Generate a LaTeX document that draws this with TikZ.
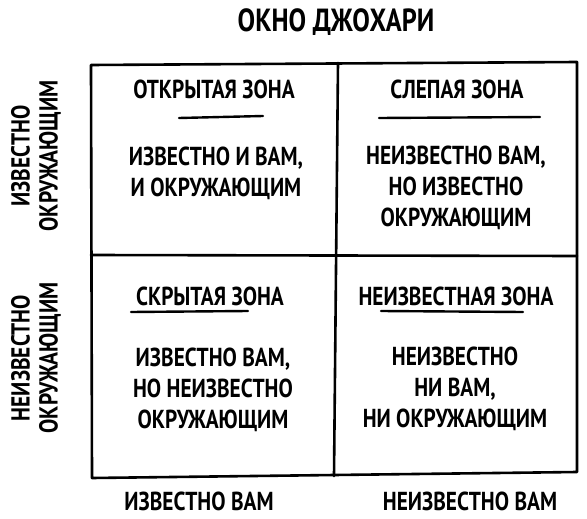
\documentclass[tikz,border=0pt]{standalone}
\usepackage{fontspec}
\setmainfont{PT Sans}[FakeStretch=0.82]
\usetikzlibrary{positioning}

\begin{document}
\begin{tikzpicture}[x=1pt, y=-1pt]
    \tikzstyle{frame} = [line width=2.6pt, line join=round, line cap=round];
    \tikzstyle{underline} = [line width=2.4pt, line cap=round];
    \tikzstyle{zone} = [font=\fontsize{26}{30}\selectfont\bfseries, inner sep=0pt];
    \tikzstyle{body} = [font=\fontsize{26}{31}\selectfont\bfseries, align=center, inner sep=0pt];
    \tikzstyle{side} = [font=\fontsize{26}{28}\selectfont\bfseries, align=center, inner sep=0pt, rotate=90];

    \useasboundingbox (0, 0) rectangle (587, 519);

    % title
    \node[font=\fontsize{32}{30}\selectfont\bfseries, inner sep=0pt] (title) at (336, 22) {ОКНО ДЖОХАРИ};

    % frame corners and midpoints
    \coordinate (tl) at (91, 65);
    \coordinate (tr) at (577, 62);
    \coordinate (br) at (577, 472);
    \coordinate (bl) at (92, 478);
    \coordinate (tm) at (338, 63);
    \coordinate (bm) at (334, 476);
    \coordinate (ml) at (91, 255);
    \coordinate (mr) at (577, 256);

    \draw[frame] (tl) -- (tr) -- (br) -- (bl) -- cycle;
    \draw[frame] (tm) -- (bm);
    \draw[frame] (ml) -- (mr);

    % zones
    \node[zone] (open) at (214, 89) {ОТКРЫТАЯ ЗОНА};
    \node[zone] (blind) at (457, 89) {СЛЕПАЯ ЗОНА};
    \node[zone] (hidden) at (210, 296) {СКРЫТАЯ ЗОНА};
    \node[zone] (unknown) at (456, 296) {НЕИЗВЕСТНАЯ ЗОНА};

    \coordinate (u1a) at (179, 118);
    \coordinate (u1b) at (263, 116);
    \coordinate (u2a) at (379, 118);
    \coordinate (u2b) at (540, 117);
    \coordinate (u3a) at (131, 312);
    \coordinate (u3b) at (248, 311);
    \coordinate (u4a) at (381, 311);
    \coordinate (u4b) at (523, 312);
    \draw[underline] (u1a) -- (u1b);
    \draw[underline] (u2a) -- (u2b);
    \draw[underline] (u3a) -- (u3b);
    \draw[underline] (u4a) -- (u4b);

    % texts
    \node[body] (openbody) at (216, 173) {ИЗВЕСТНО И ВАМ,\\И ОКРУЖАЮЩИМ};
    \node[body] (blindbody) at (456, 188) {НЕИЗВЕСТНО ВАМ,\\НО ИЗВЕСТНО\\ОКРУЖАЮЩИМ};
    \node[body] (hiddenbody) at (213, 390) {ИЗВЕСТНО ВАМ,\\НО НЕИЗВЕСТНО\\ОКРУЖАЮЩИМ};
    \node[body] (unknownbody) at (455, 389) {НЕИЗВЕСТНО\\НИ ВАМ,\\НИ ОКРУЖАЮЩИМ};

    % axes
    \node[zone] (youknown) at (199, 501) {ИЗВЕСТНО ВАМ};
    \node[zone] (youunknown) at (470, 501) {НЕИЗВЕСТНО ВАМ};
    \node[side] (othersknown) at (36, 156) {ИЗВЕСТНО\\ОКРУЖАЮЩИМ};
    \node[side] (othersunknown) at (36, 358) {НЕИЗВЕСТНО\\ОКРУЖАЮЩИМ};
\end{tikzpicture}
\end{document}
